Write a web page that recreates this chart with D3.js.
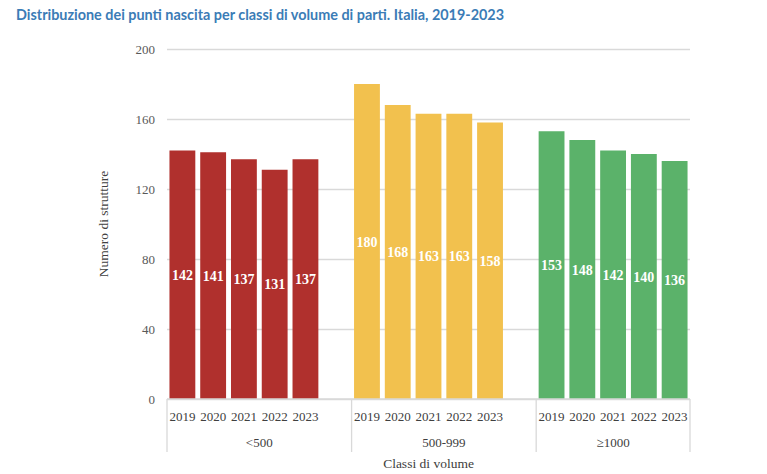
<!DOCTYPE html>
<meta charset="utf-8">
<script src="https://d3js.org/d3.v7.min.js"></script>
<style>
body { margin: 0; background: #fff; }
svg text { font-family: "Liberation Serif", "DejaVu Serif", serif; }
</style>
<div id="chart"></div>
<script>
// data
var classes = ["<500", "500-999", "\u22651000"];
var years = ["2019", "2020", "2021", "2022", "2023"];
var under500 = [142, 141, 137, 131, 137];
var from500to999 = [180, 168, 163, 163, 158];
var over1000 = [153, 148, 142, 140, 136];
var yTicks = [0, 40, 80, 120, 160, 200];
var colors = ["#b0302d", "#f2c14e", "#5bb26a"];

var width = 767, height = 474;
var plotLeft = 167, plotRight = 690, plotTop = 49, plotBottom = 399;

var svg = d3.select("#chart").append("svg")
  .attr("width", width)
  .attr("height", height);

// title
svg.append("text")
  .attr("x", 16).attr("y", 20)
  .style("font-family", "Lato, 'Open Sans', sans-serif")
  .style("font-weight", "bold")
  .style("font-size", "14.4px")
  .attr("fill", "#3b7cb6")
  .text("Distribuzione dei punti nascita per classi di volume di parti. Italia, 2019-2023");

// one slot per year, plus an empty slot between classes
var series = [under500, from500to999, over1000];
var slots = [];
series.forEach(function(vals, i) {
  vals.forEach(function(v, j) {
    slots.push({ key: i + "-" + j, cls: i, year: years[j], value: v });
  });
  if (i < series.length - 1) slots.push({ key: i + "-gap", cls: i, gap: true });
});

var x = d3.scaleBand()
  .domain(slots.map(function(d) { return d.key; }))
  .range([plotLeft, plotRight])
  .paddingInner(0.16)
  .paddingOuter(0.08);

var y = d3.scaleLinear().domain([0, 200]).range([plotBottom, plotTop]);

// gridlines + y labels
var yAxis = svg.append("g")
  .attr("transform", "translate(" + plotLeft + ",0)")
  .call(d3.axisLeft(y).tickValues(yTicks).tickSize(-(plotRight - plotLeft)).tickPadding(12));
yAxis.select(".domain").remove();
yAxis.selectAll(".tick line").attr("stroke", "#d9d9d9").attr("stroke-width", 1.3);
yAxis.selectAll(".tick text")
  .attr("fill", "#595959")
  .style("font-size", "13px")
  .style("font-family", "'Liberation Serif', serif");

// bars
var bars = slots.filter(function(d) { return !d.gap; });
svg.append("g").selectAll("rect")
  .data(bars)
  .enter().append("rect")
    .attr("x", function(d) { return x(d.key); })
    .attr("y", function(d) { return y(d.value); })
    .attr("width", x.bandwidth())
    .attr("height", function(d) { return y(0) - y(d.value); })
    .attr("fill", function(d) { return colors[d.cls]; });

// value labels
svg.append("g").selectAll("text")
  .data(bars)
  .enter().append("text")
    .attr("x", function(d) { return x(d.key) + x.bandwidth() / 2; })
    .attr("y", function(d) { return (y(d.value) + y(0)) / 2 + 5; })
    .attr("text-anchor", "middle")
    .attr("fill", "#fff")
    .style("font-weight", "bold")
    .style("font-size", "14px")
    .text(function(d) { return d.value; });

// baseline
svg.append("line")
  .attr("x1", plotLeft).attr("x2", plotRight)
  .attr("y1", plotBottom).attr("y2", plotBottom)
  .attr("stroke", "#d9d9d9").attr("stroke-width", 1.3);

// year labels
svg.append("g").selectAll("text")
  .data(bars)
  .enter().append("text")
    .attr("x", function(d) { return x(d.key) + x.bandwidth() / 2; })
    .attr("y", 421)
    .attr("text-anchor", "middle")
    .attr("fill", "#404040")
    .style("font-size", "13px")
    .text(function(d) { return d.year; });

// class boundaries
var step = x.step();
var bounds = [plotLeft];
classes.forEach(function(c, i) {
  var own = slots.filter(function(d) { return d.cls === i; });
  var end = i < classes.length - 1 ? x(own[own.length - 1].key) - step * x.paddingInner() / 2 + step : plotRight;
  bounds.push(end);
});
svg.append("g").selectAll("line")
  .data(bounds)
  .enter().append("line")
    .attr("x1", function(d) { return d; })
    .attr("x2", function(d) { return d; })
    .attr("y1", plotBottom).attr("y2", 452)
    .attr("stroke", "#d9d9d9").attr("stroke-width", 1.3);

svg.append("g").selectAll("text")
  .data(classes)
  .enter().append("text")
    .attr("x", function(d, i) { return (bounds[i] + bounds[i + 1]) / 2; })
    .attr("y", 447)
    .attr("text-anchor", "middle")
    .attr("fill", "#404040")
    .style("font-size", "13px")
    .text(function(d) { return d; });

// axis titles
svg.append("text")
  .attr("x", (plotLeft + plotRight) / 2).attr("y", 468)
  .attr("text-anchor", "middle")
  .attr("fill", "#404040")
  .style("font-size", "13.5px")
  .text("Classi di volume");

svg.append("text")
  .attr("transform", "translate(108," + (plotTop + plotBottom) / 2 + ") rotate(-90)")
  .attr("text-anchor", "middle")
  .attr("fill", "#404040")
  .style("font-size", "13.5px")
  .text("Numero di strutture");
</script>
